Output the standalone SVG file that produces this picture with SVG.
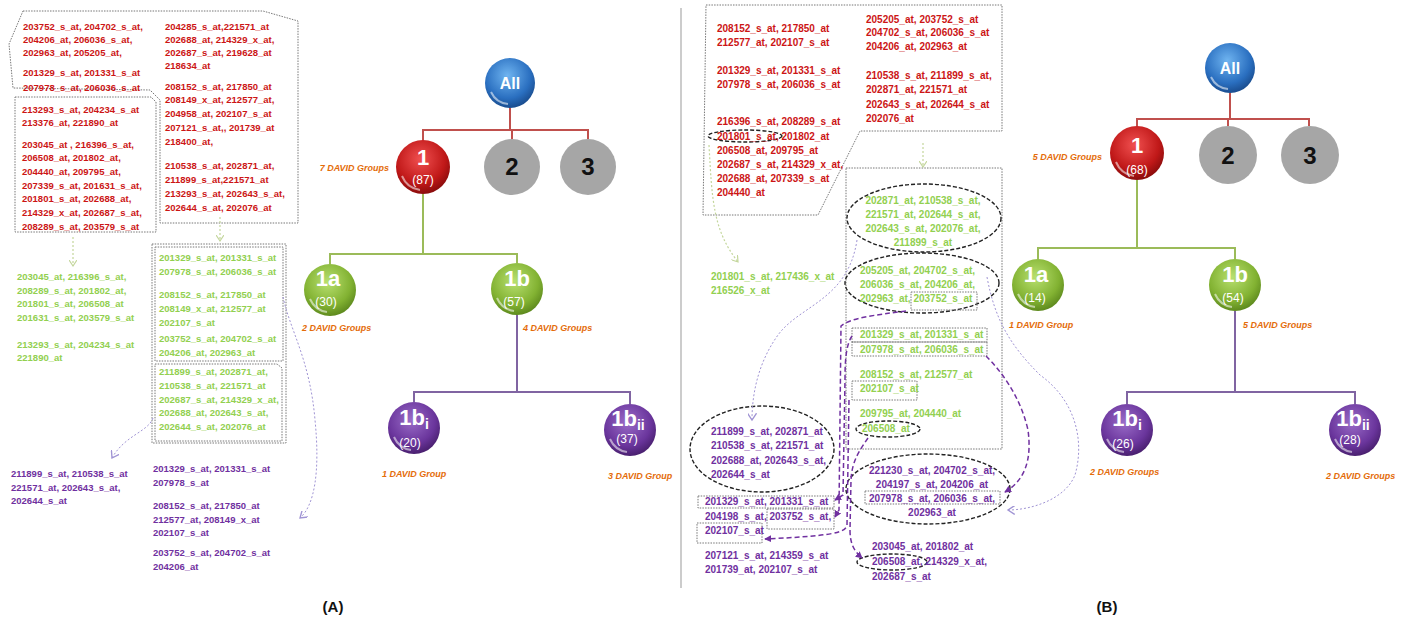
<svg xmlns="http://www.w3.org/2000/svg" width="1418" height="624" viewBox="0 0 1418 624">
<style>
text{font-family:"Liberation Sans",Arial,sans-serif;font-weight:bold}
.a{font-size:9.5px}
.b{font-size:10px}
.r{fill:#cc1515}
.g{fill:#92d050}
.p{fill:#7030a0}
.dv{font-size:9px;font-style:italic;fill:#e46c0a}
.box{fill:none;stroke:#777;stroke-width:1;stroke-dasharray:1.5 1.2}
.ell{fill:none;stroke:#222;stroke-width:1.4;stroke-dasharray:4 2}
.cr{fill:none;stroke:#c0504d;stroke-width:2}
.cg{fill:none;stroke:#9bbb59;stroke-width:2}
.cp{fill:none;stroke:#8064a2;stroke-width:2}
.ay{fill:none;stroke:#c3d69b;stroke-width:1.2;stroke-dasharray:2 2}
.al{fill:none;stroke:#a094d4;stroke-width:1;stroke-dasharray:2 2}
.ap{fill:none;stroke:#7030a0;stroke-width:1.5;stroke-dasharray:5 3}
.big{font-size:22px;fill:#fff}
.sm{font-size:12px;fill:#fff;font-weight:normal}
.hl{fill:none;stroke:#fff;stroke-width:2;stroke-opacity:0.55}
</style>
<defs>
<radialGradient id="gb" cx="45%" cy="35%" r="65%"><stop offset="0" stop-color="#6fb4f0"/><stop offset="0.7" stop-color="#2a6fc0"/><stop offset="1" stop-color="#1a4d8f"/></radialGradient>
<radialGradient id="gr" cx="45%" cy="35%" r="65%"><stop offset="0" stop-color="#f05050"/><stop offset="0.7" stop-color="#c01818"/><stop offset="1" stop-color="#8a0c0c"/></radialGradient>
<radialGradient id="gg" cx="45%" cy="35%" r="65%"><stop offset="0" stop-color="#b8e070"/><stop offset="0.7" stop-color="#82b232"/><stop offset="1" stop-color="#5e8a1e"/></radialGradient>
<radialGradient id="gp" cx="45%" cy="35%" r="65%"><stop offset="0" stop-color="#9a6cc8"/><stop offset="0.7" stop-color="#6a359c"/><stop offset="1" stop-color="#4a2070"/></radialGradient>
<marker id="my" viewBox="0 0 8 8" refX="6" refY="4" markerWidth="8" markerHeight="8" markerUnits="userSpaceOnUse" orient="auto"><path d="M0,0 L6,4 L0,8" fill="none" stroke="#c3d69b" stroke-width="1.2"/></marker>
<marker id="ml" viewBox="0 0 8 8" refX="6" refY="4" markerWidth="9" markerHeight="9" markerUnits="userSpaceOnUse" orient="auto"><path d="M0,0 L6,4 L0,8" fill="none" stroke="#a094d4" stroke-width="1.2"/></marker>
<marker id="mp" viewBox="0 0 8 8" refX="7" refY="4" markerWidth="7" markerHeight="7" markerUnits="userSpaceOnUse" orient="auto"><path d="M0,0 L8,4 L0,8 Z" fill="#7030a0"/></marker>
</defs>
<rect width="1418" height="624" fill="#fff"/>
<line x1="681" y1="8" x2="681" y2="588" stroke="#999" stroke-width="1"/>

<!-- Panel A text blocks -->
<g id="a-red">
<path class="box" d="M23,11 L263,11 L298,21 L298,223 L160,223 L160,100 L150,90 L13,88 L9,44 Z"/>
<path class="box" d="M15,97 H151 L156,102 V232 H15 Z"/>
<g class="a r">
<text x="23" y="29.5">203752_s_at, 204702_s_at,</text>
<text x="23" y="43">204206_at, 206036_s_at,</text>
<text x="23" y="56">202963_at, 205205_at,</text>
<text x="23" y="76">201329_s_at, 201331_s_at</text>
<text x="23" y="91">207978_s_at, 206036_s_at</text>
<text x="22" y="112.5">213293_s_at, 204234_s_at</text>
<text x="22" y="126">213376_at, 221890_at</text>
<text x="22" y="147.5">203045_at , 216396_s_at,</text>
<text x="22" y="161">206508_at, 201802_at,</text>
<text x="22" y="174.5">204440_at, 209795_at,</text>
<text x="22" y="188.5">207339_s_at, 201631_s_at,</text>
<text x="22" y="202">201801_s_at, 202688_at,</text>
<text x="22" y="216">214329_x_at, 202687_s_at,</text>
<text x="22" y="230">208289_s_at, 203579_s_at</text>
<text x="165" y="29.5">204285_s_at,221571_at</text>
<text x="165" y="43">202688_at, 214329_x_at,</text>
<text x="165" y="56">202687_s_at, 219628_at</text>
<text x="165" y="69">218634_at</text>
<text x="165" y="89.5">208152_s_at, 217850_at</text>
<text x="165" y="103">208149_x_at,  212577_at,</text>
<text x="165" y="117">204958_at, 202107_s_at</text>
<text x="165" y="131">207121_s_at,, 201739_at</text>
<text x="165" y="145">218400_at,</text>
<text x="165" y="169">210538_s_at, 202871_at,</text>
<text x="165" y="183">211899_s_at,221571_at</text>
<text x="165" y="197">213293_s_at, 202643_s_at,</text>
<text x="165" y="210.5">202644_s_at, 202076_at</text>
</g>
</g>

<g id="a-green">
<rect class="box" x="152" y="244" width="134" height="199" stroke-width="1.6"/>
<rect class="box" x="155" y="247" width="128" height="114"/>
<path class="box" d="M155,364 H277 L282,368 V441 H155 Z"/>
<g class="a g">
<text x="17" y="280">203045_at, 216396_s_at,</text>
<text x="17" y="293.5">208289_s_at, 201802_at,</text>
<text x="17" y="307">201801_s_at, 206508_at</text>
<text x="17" y="321">201631_s_at, 203579_s_at</text>
<text x="17" y="347.5">213293_s_at, 204234_s_at</text>
<text x="17" y="361">221890_at</text>
<text x="159" y="261">201329_s_at, 201331_s_at</text>
<text x="159" y="275">207978_s_at, 206036_s_at</text>
<text x="159" y="297.5">208152_s_at, 217850_at</text>
<text x="159" y="312">208149_x_at, 212577_at</text>
<text x="159" y="325.5">202107_s_at</text>
<text x="159" y="342">203752_s_at, 204702_s_at</text>
<text x="159" y="356">204206_at, 202963_at</text>
<text x="159" y="375">211899_s_at, 202871_at,</text>
<text x="159" y="389">210538_s_at, 221571_at</text>
<text x="159" y="403">202687_s_at, 214329_x_at,</text>
<text x="159" y="416">202688_at, 202643_s_at,</text>
<text x="159" y="429.5">202644_s_at, 202076_at</text>
</g>
</g>

<g id="a-purple" class="a p">
<text x="11" y="477">211899_s_at, 210538_s_at</text>
<text x="11" y="490.5">221571_at, 202643_s_at,</text>
<text x="11" y="504">202644_s_at</text>
<text x="153" y="472">201329_s_at, 201331_s_at</text>
<text x="153" y="485.5">207978_s_at</text>
<text x="153" y="509">208152_s_at, 217850_at</text>
<text x="153" y="523">212577_at, 208149_x_at</text>
<text x="153" y="536">202107_s_at</text>
<text x="153" y="556">203752_s_at, 204702_s_at</text>
<text x="153" y="570">204206_at</text>
</g>

<!-- Panel B text blocks -->
<g id="b-red">
<path class="box" d="M706,5 L1002,5 L1002,131 L860,131 L818,215 L703,215 Z"/>
<ellipse class="ell" cx="745" cy="136" rx="37" ry="6"/>
<g class="b r">
<text x="717" y="32">208152_s_at, 217850_at</text>
<text x="717" y="46">212577_at, 202107_s_at</text>
<text x="717" y="74">201329_s_at, 201331_s_at</text>
<text x="717" y="88">207978_s_at, 206036_s_at</text>
<text x="717" y="125">216396_s_at, 208289_s_at</text>
<text x="717" y="139.5">201801_s_at, 201802_at</text>
<text x="717" y="153.5">206508_at, 209795_at</text>
<text x="717" y="168">202687_s_at, 214329_x_at,</text>
<text x="717" y="182">202688_at, 207339_s_at</text>
<text x="717" y="196">204440_at</text>
<text x="866" y="22.5">205205_at, 203752_s_at</text>
<text x="866" y="36">204702_s_at, 206036_s_at</text>
<text x="866" y="49.5">204206_at, 202963_at</text>
<text x="866" y="79">210538_s_at, 211899_s_at,</text>
<text x="866" y="93">202871_at, 221571_at</text>
<text x="866" y="107.5">202643_s_at, 202644_s_at</text>
<text x="866" y="121.5">202076_at</text>
</g>
</g>

<g id="b-green">
<rect class="box" x="846" y="168" width="156" height="281"/>
<ellipse class="ell" cx="924" cy="218" rx="77" ry="34"/>
<ellipse class="ell" cx="922" cy="283" rx="77" ry="30"/>
<rect class="box" x="911" y="292" width="66" height="18" stroke="#444"/>
<rect class="box" x="852" y="328" width="135" height="14" stroke="#444"/>
<rect class="box" x="852" y="342" width="135" height="14" stroke="#444"/>
<rect class="box" x="852" y="381" width="65" height="19" stroke="#444"/>
<ellipse class="ell" cx="888" cy="429" rx="32" ry="8"/>
<g class="b g">
<text x="711" y="280">201801_s_at, 217436_x_at</text>
<text x="711" y="294">216526_x_at</text>
<g text-anchor="middle">
<text x="923" y="203.5">202871_at, 210538_s_at,</text>
<text x="923" y="217.5">221571_at, 202644_s_at,</text>
<text x="923" y="232">202643_s_at, 202076_at,</text>
<text x="923" y="246">211899_s_at</text>
</g>
<text x="860" y="274">205205_at, 204702_s_at,</text>
<text x="860" y="288">206036_s_at, 204206_at,</text>
<text x="860" y="302">202963_at, 203752_s_at</text>
<text x="860" y="338">201329_s_at, 201331_s_at</text>
<text x="860" y="352.5">207978_s_at, 206036_s_at</text>
<text x="860" y="377.5">208152_s_at, 212577_at</text>
<text x="860" y="391.5">202107_s_at</text>
<text x="860" y="417">209795_at, 204440_at</text>
<text x="862" y="432">206508_at</text>
</g>
</g>

<g id="b-purple">
<ellipse class="ell" cx="762" cy="449" rx="72" ry="43"/>
<rect class="box" x="698" y="496" width="136" height="12" stroke="#444"/>
<rect class="box" x="767" y="509" width="67" height="20" stroke="#444"/>
<rect class="box" x="697" y="523" width="65" height="20" stroke="#444"/>
<ellipse class="ell" cx="928" cy="489" rx="82" ry="35"/>
<rect class="box" x="865" y="491" width="135" height="13" stroke="#444"/>
<ellipse class="ell" cx="892" cy="562" rx="35" ry="8"/>
<g class="b p">
<text x="711" y="434.5">211899_s_at, 202871_at</text>
<text x="711" y="449">210538_s_at, 221571_at</text>
<text x="711" y="463.5">202688_at, 202643_s_at,</text>
<text x="711" y="477.5">202644_s_at</text>
<text x="705" y="505">201329_s_at, 201331_s_at</text>
<text x="705" y="519.5">204198_s_at, 203752_s_at,</text>
<text x="705" y="534">202107_s_at</text>
<text x="705" y="558.5">207121_s_at, 214359_s_at</text>
<text x="705" y="573">201739_at, 202107_s_at</text>
<g text-anchor="middle">
<text x="932" y="473.5">221230_s_at, 204702_s_at,</text>
<text x="932" y="487.5">204197_s_at, 204206_at</text>
<text x="932" y="502">207978_s_at, 206036_s_at,</text>
<text x="932" y="516">202963_at</text>
</g>
<text x="872" y="550">203045_at, 201802_at</text>
<text x="872" y="565">206508_at, 214329_x_at,</text>
<text x="872" y="579.5">202687_s_at</text>
</g>
</g>

<!-- Connectors -->
<g id="connectors">
<path class="cr" d="M510,108 V130 M423,130 H588 M423,129 V141 M512,129 V139 M588,129 V139"/>
<path class="cg" d="M423,194 V254 M329,254 H518 M330,253 V264 M517,253 V263"/>
<path class="cp" d="M517,315 V392 M413,392 H631 M414,391 V402 M630,391 V404"/>
<path class="cr" d="M1230,93 V119 M1137,119 H1309 M1137,118 V127 M1228,118 V126 M1309,118 V126"/>
<path class="cg" d="M1137,180 V248 M1038,248 H1236 M1038,247 V259 M1235,247 V259"/>
<path class="cp" d="M1235,311 V392 M1127,392 H1355 M1127,391 V404 M1355,391 V404"/>
<path class="ay" d="M73,237 V266" marker-end="url(#my)"/>
<path class="ay" d="M220,217 V241" marker-end="url(#my)"/>
<path class="ay" d="M709,145 C712,200 713,230 738,262" marker-end="url(#my)"/>
<path class="ay" d="M923,143 V167" marker-end="url(#my)"/>
<path class="al" d="M153,418 C148,432 125,435 112,458" marker-end="url(#ml)"/>
<path class="al" d="M283,297 C290,330 310,360 315,420 C320,470 315,505 300,518" marker-end="url(#ml)"/>
<path class="al" d="M857,240 C848,300 800,305 778,335 C760,360 752,390 752,420" marker-end="url(#ml)"/>
<path class="al" d="M987,277 C995,320 1010,345 1040,375 C1075,400 1085,440 1075,475 C1065,500 1030,510 1008,510" marker-end="url(#ml)"/>
<path class="ap" d="M906,311 C875,315 850,318 841,326 L839,510 L835,517" marker-end="url(#mp)"/>
<path class="ap" d="M852,336 C846,345 845,360 845,380 L843,495 L835,500" marker-end="url(#mp)"/>
<path class="ap" d="M849,400 L847,525 C846,533 830,536 765,539" marker-end="url(#mp)"/>
<path class="ap" d="M868,438 C860,450 852,460 851,480 L850,530 C850,545 855,552 862,558" marker-end="url(#mp)"/>
<path class="ap" d="M986,356 C1000,370 1020,395 1028,430 C1032,460 1025,480 1005,492" marker-end="url(#mp)"/>
</g>

<!-- Nodes A -->
<g id="a-all"><circle cx="510" cy="83" r="25" fill="url(#gb)"/><path class="hl" d="M491,92 A21,21 0 0 0 508,104"/><text x="510" y="89" text-anchor="middle" font-size="16" fill="#fff">All</text></g>
<g id="a-1"><circle cx="423" cy="167" r="27" fill="url(#gr)"/><path class="hl" d="M402,176 A23,23 0 0 0 420,190"/><text x="423" y="165" text-anchor="middle" class="big">1</text><text x="423" y="184" text-anchor="middle" class="sm">(87)</text></g>
<g id="a-2"><circle cx="512" cy="167" r="28" fill="#a6a6a6"/><text x="512" y="175" text-anchor="middle" font-size="24" fill="#111">2</text></g>
<g id="a-3"><circle cx="588" cy="167" r="28" fill="#a6a6a6"/><text x="588" y="175" text-anchor="middle" font-size="24" fill="#111">3</text></g>
<g id="a-1a"><circle cx="330" cy="290" r="26" fill="url(#gg)"/><path class="hl" d="M310,299 A22,22 0 0 0 327,312"/><text x="328" y="286" text-anchor="middle" class="big">1a</text><text x="326" y="306" text-anchor="middle" class="sm">(30)</text></g>
<g id="a-1b"><circle cx="517" cy="289" r="26" fill="url(#gg)"/><path class="hl" d="M497,298 A22,22 0 0 0 514,311"/><text x="517" y="286" text-anchor="middle" class="big">1b</text><text x="514" y="306" text-anchor="middle" class="sm">(57)</text></g>
<g id="a-1bi"><circle cx="414" cy="428" r="26" fill="url(#gp)"/><path class="hl" d="M394,437 A22,22 0 0 0 411,450"/><text x="414" y="425" text-anchor="middle" class="big">1b<tspan font-size="14" dy="4">i</tspan></text><text x="410" y="447" text-anchor="middle" class="sm">(20)</text></g>
<g id="a-1bii"><circle cx="630" cy="430" r="26" fill="url(#gp)"/><path class="hl" d="M610,439 A22,22 0 0 0 627,452"/><text x="628" y="426" text-anchor="middle" class="big">1b<tspan font-size="14" dy="4">ii</tspan></text><text x="627" y="443" text-anchor="middle" class="sm">(37)</text></g>
<g id="a-labels" class="dv">
<text x="389" y="171" text-anchor="end">7 DAVID Groups</text>
<text x="302" y="331">2 DAVID Groups</text>
<text x="523" y="331">4 DAVID Groups</text>
<text x="382" y="477">1 DAVID Group</text>
<text x="608" y="479">3 DAVID Group</text>
</g>

<!-- Nodes B -->
<g id="b-all"><circle cx="1230" cy="68" r="25" fill="url(#gb)"/><path class="hl" d="M1211,77 A21,21 0 0 0 1228,89"/><text x="1230" y="74" text-anchor="middle" font-size="16" fill="#fff">All</text></g>
<g id="b-1"><circle cx="1137" cy="153" r="27" fill="url(#gr)"/><path class="hl" d="M1116,162 A23,23 0 0 0 1134,176"/><text x="1137" y="153" text-anchor="middle" class="big">1</text><text x="1137" y="174" text-anchor="middle" class="sm">(68)</text></g>
<g id="b-2"><circle cx="1228" cy="155" r="29" fill="#a6a6a6"/><text x="1228" y="164" text-anchor="middle" font-size="24" fill="#111">2</text></g>
<g id="b-3"><circle cx="1310" cy="155" r="29" fill="#a6a6a6"/><text x="1310" y="164" text-anchor="middle" font-size="24" fill="#111">3</text></g>
<g id="b-1a"><circle cx="1038" cy="285" r="26" fill="url(#gg)"/><path class="hl" d="M1018,294 A22,22 0 0 0 1035,307"/><text x="1036" y="282" text-anchor="middle" class="big">1a</text><text x="1035" y="302" text-anchor="middle" class="sm">(14)</text></g>
<g id="b-1b"><circle cx="1235" cy="285" r="26" fill="url(#gg)"/><path class="hl" d="M1215,294 A22,22 0 0 0 1232,307"/><text x="1235" y="282" text-anchor="middle" class="big">1b</text><text x="1233" y="302" text-anchor="middle" class="sm">(54)</text></g>
<g id="b-1bi"><circle cx="1127" cy="430" r="26" fill="url(#gp)"/><path class="hl" d="M1107,439 A22,22 0 0 0 1124,452"/><text x="1127" y="426" text-anchor="middle" class="big">1b<tspan font-size="14" dy="4">i</tspan></text><text x="1123" y="448" text-anchor="middle" class="sm">(26)</text></g>
<g id="b-1bii"><circle cx="1355" cy="430" r="26" fill="url(#gp)"/><path class="hl" d="M1335,439 A22,22 0 0 0 1352,452"/><text x="1353" y="426" text-anchor="middle" class="big">1b<tspan font-size="14" dy="4">ii</tspan></text><text x="1350" y="444" text-anchor="middle" class="sm">(28)</text></g>
<g id="b-labels" class="dv">
<text x="1102" y="160" text-anchor="end">5 DAVID Groups</text>
<text x="1009" y="328">1 DAVID Group</text>
<text x="1243" y="328">5 DAVID Groups</text>
<text x="1090" y="475">2 DAVID Groups</text>
<text x="1326" y="479">2 DAVID Groups</text>
</g>

<g id="captions">
<text x="333" y="612" text-anchor="middle" font-size="15" fill="#111">(A)</text>
<text x="1107" y="612" text-anchor="middle" font-size="15" fill="#111">(B)</text>
</g>
</svg>
